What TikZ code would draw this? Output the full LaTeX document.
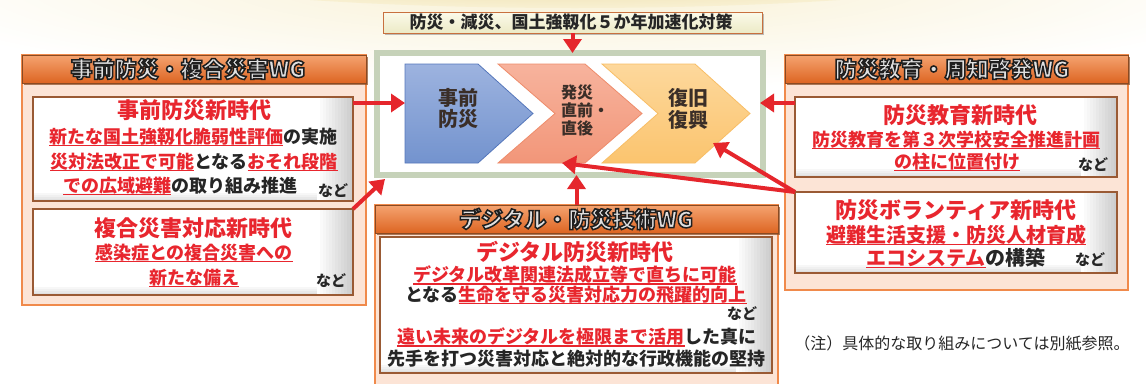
\documentclass[tikz,border=0pt]{standalone}
\usepackage{fontspec}
\setmainfont{Noto Sans CJK JP}
\usetikzlibrary{arrows.meta,calc,shadows}
\definecolor{jred}{HTML}{E8262E}
\definecolor{arred}{HTML}{E5262C}
\definecolor{peach}{HTML}{FCE4D6}
\definecolor{porange}{HTML}{F08A4B}
\definecolor{bbrown}{HTML}{9A5A34}
\definecolor{tbtop}{HTML}{F5A370}
\definecolor{tbbot}{HTML}{DD6522}
\definecolor{tbdraw}{HTML}{8A4A22}
\definecolor{frameg}{HTML}{C6D2B9}
\definecolor{txtd}{HTML}{262626}
\definecolor{glowA}{HTML}{F8F0D2}
\definecolor{glowB}{HTML}{E6D08C}
\definecolor{bluetop}{HTML}{9DB3DF}
\definecolor{bluebot}{HTML}{7393CE}
\definecolor{bluedraw}{HTML}{5577BB}
\definecolor{saltop}{HTML}{F7B39D}
\definecolor{salbot}{HTML}{F29679}
\definecolor{saldraw}{HTML}{EE8C6B}
\definecolor{ortop}{HTML}{FDD89C}
\definecolor{orbot}{HTML}{FBC46E}
\definecolor{ordraw}{HTML}{F8BE66}
\definecolor{bantop}{HTML}{FBFAEA}
\definecolor{banbot}{HTML}{ECEAC6}
\definecolor{bandraw}{HTML}{C8703E}
\definecolor{chevtxt}{HTML}{3A2E28}
\definecolor{bevel}{HTML}{C8C8C8}
\newcommand\ru[1]{{\color{jred}\setbox0\hbox{#1}\rlap{\rule[-3.2pt]{\wd0}{1.3pt}}\box0}}
\newcommand\kk[1]{{\color{txtd}#1}}
\newcommand\outltext[1]{\special{pdf:code 2 Tr 1.5 w 0.12 G}#1\special{pdf:code 0 Tr}}
\tikzset{
  panel/.style={fill=peach, draw=porange, line width=2.5pt, inner sep=0pt, outer sep=0pt, anchor=north west},
  tbar/.style={top color=tbtop, bottom color=tbbot, draw=tbdraw, line width=0.8pt, inner sep=0pt, outer sep=0pt, anchor=north west,
    drop shadow={shadow xshift=1.5pt, shadow yshift=-2pt, opacity=0.7, fill=tbdraw}},
  ibox/.style={fill=white, draw=bbrown, line width=2.6pt, inner sep=0pt, outer sep=0pt, anchor=north west,
    path picture={
      \foreach \i in {1,...,12}{
        \pgfmathsetmacro\pc{\i*100/12}
        \fill[bevel!\pc!white] ([xshift={-36pt+\i*3pt}]path picture bounding box.north east) rectangle (path picture bounding box.south east);
      }
      \foreach \i in {1,...,5}{
        \pgfmathsetmacro\pc{\i*70/5}
        \fill[bevel!\pc!white] ([yshift={10pt-\i*2pt}]path picture bounding box.south west) rectangle ([xshift=-36pt]path picture bounding box.south east);
      }
    }},
  hd/.style={font=\fontsize{22}{24}\selectfont\bfseries, text=jred, inner sep=0pt},
  bd/.style={font=\fontsize{18}{20}\selectfont\bfseries, text=jred, inner sep=0pt},
  bdl/.style={font=\fontsize{20}{22}\selectfont\bfseries, text=jred, inner sep=0pt},
  nado/.style={font=\fontsize{15}{16}\selectfont\bfseries, text=txtd, inner sep=0pt},
  ttl/.style={font=\fontsize{22}{24}\selectfont\bfseries, text=white!88!black, inner sep=0pt},
  chevtext/.style={font=\fontsize{20}{21}\selectfont\bfseries, text=chevtxt, inner sep=0pt, align=center},
  rarrow/.style={draw=arred, line width=4pt, -{Triangle[length=14pt,width=18pt]}},
}
\begin{document}
\begin{tikzpicture}[x=1pt,y=-1pt]
\useasboundingbox (0,0) rectangle (1146,383);
% background glow
\begin{scope}
  \clip (0,0) rectangle (1146,383);
  \shade[inner color=glowA, outer color=white] (575,-20) ellipse [x radius=720, y radius=110];
  \shade[inner color=glowB, outer color=glowA] (575,-38) ellipse [x radius=470, y radius=46];
\end{scope}

% left panel
\node[panel, minimum width=344, minimum height=250] (lp) at (22,55) {};
\node[tbar, minimum width=344, minimum height=28] (lt) at (22,55) {};
\node[ibox, minimum width=320, minimum height=104] (b1) at (33,97) {};
\node[ibox, minimum width=320, minimum height=86] (b2) at (33,209) {};

% right panel
\node[panel, minimum width=343, minimum height=235] (rp) at (785,55) {};
\node[tbar, minimum width=343, minimum height=28] (rt) at (785,55) {};
\node[ibox, minimum width=322, minimum height=80] (e1) at (795,97) {};
\node[ibox, minimum width=322, minimum height=81] (v1) at (795,192) {};

% bottom panel
\node[panel, minimum width=403, minimum height=190] (dp) at (375,205) {};
\node[tbar, minimum width=403, minimum height=28] (dt) at (375,205) {};
\node[ibox, minimum width=392, minimum height=136] (db) at (380,237) {};

% banner
\node[top color=bantop, bottom color=banbot, draw=bandraw, line width=0.9pt, inner sep=0pt, outer sep=0pt, anchor=north west,
  minimum width=379, minimum height=21, drop shadow={shadow xshift=1.5pt, shadow yshift=-1.5pt, opacity=0.5}] (banner) at (383,12) {};

% frame
\node[draw=frameg, line width=6pt, fill=white, inner sep=0pt, outer sep=0pt, anchor=north west,
  minimum width=386, minimum height=122] (frame) at (377,53) {};

% chevrons
\shade[top color=bluetop, bottom color=bluebot, draw=bluedraw, line width=0.8pt]
  (405,64) -- (478,64) -- (533,113.5) -- (478,163) -- (405,163) -- cycle;
\shade[top color=saltop, bottom color=salbot, draw=saldraw, line width=0.8pt]
  (498,64) -- (585,64) -- (642,113.5) -- (585,163) -- (498,163) -- (555,113.5) -- cycle;
\shade[top color=ortop, bottom color=orbot, draw=ordraw, line width=0.8pt]
  (602,64) -- (695,64) -- (750,113.5) -- (695,163) -- (602,163) -- (658,113.5) -- cycle;
\coordinate (blueW) at (405,103);
\coordinate (salS) at (562,163);
\coordinate (oraSE) at (713,143);
\coordinate (frameE) at (760,103);
\coordinate (frameSW) at (385,179);

\node[chevtext] (c1) at (458,108) {事前\\防災};
\node[chevtext, font=\fontsize{16}{18}\selectfont\bfseries, align=left, anchor=west] (c2) at (561,110) {発災\\直前・\\直後};
\node[chevtext, font=\fontsize{20}{22}\selectfont\bfseries] (c3) at (688,109) {復旧\\復興};

% arrows
\draw[rarrow] (banner.south) -- (banner.south |- frame.north);
\draw[rarrow] (dt.north) -- (dt.north |- frame.south);
\draw[rarrow] (b1.east |- blueW) -- (blueW);
\draw[rarrow] (b2.north east) -- (frameSW);
\draw[rarrow] (e1.west |- frameE) -- (frameE);
\draw[rarrow] (v1.north west) -- (salS);
\draw[rarrow] (v1.north west) -- (oraSE);

% banner text
\node[font=\fontsize{17}{18}\selectfont\bfseries, text=txtd, inner sep=0pt] (bt) at (571,22) {防災・減災、国土強靱化５か年加速化対策};

% titles
\node[ttl] (t1) at (188,69) {\outltext{事前防災・複合災害WG}};
\node[ttl] (t2) at (952,69) {\outltext{防災教育・周知啓発WG}};
\node[ttl] (t3) at (576,219) {\outltext{デジタル・防災技術WG}};

% box 1
\node[hd] (h1) at (194,110) {事前防災新時代};
\node[bd] (l11) at (193,137) {\ru{新たな国土強靱化脆弱性評価}\kk{の実施}};
\node[bd] (l12) at (194,162) {\ru{災対法改正で可能}\kk{となる}\ru{おそれ段階}};
\node[bd] (l13) at (180,186) {\ru{での広域避難}\kk{の取り組み推進}};
\node[nado] (n1) at (333,191) {など};

% box 2
\node[hd] (h2) at (193,228) {複合災害対応新時代};
\node[bd] (l21) at (194,253) {\ru{感染症との複合災害への}};
\node[bd] (l22) at (194,278) {\ru{新たな備え}};
\node[nado] (n2) at (331,281) {など};

% bottom box
\node[hd] (h3) at (575,252) {デジタル防災新時代};
\node[bd] (l31) at (575,275) {\ru{デジタル改革関連法成立等で直ちに可能}};
\node[bd] (l32) at (576,295) {\kk{となる}\ru{生命を守る災害対応力の飛躍的向上}};
\node[nado] (n3) at (742,314) {など};
\node[bd] (l33) at (577,337) {\ru{遠い未来のデジタルを極限まで活用}\kk{した真に}};
\node[bd, text=txtd] (l34) at (576,359) {先手を打つ災害対応と絶対的な行政機能の堅持};

% right box 1
\node[hd] (h4) at (960,115) {防災教育新時代};
\node[bd] (l41) at (956,140) {\ru{防災教育を第３次学校安全推進計画}};
\node[bd] (l42) at (957,162) {\ru{の柱に位置付け}};
\node[nado] (n4) at (1093,165) {など};

% right box 2
\node[hd] (h5) at (956,210) {防災ボランティア新時代};
\node[bdl] (l51) at (956,235) {\ru{避難生活支援・防災人材育成}};
\node[bdl] (l52) at (956,258) {\ru{エコシステム}\kk{の構築}};
\node[nado] (n5) at (1090,260) {など};

% note
\node[font=\fontsize{16}{18}\selectfont, text=txtd, inner sep=0pt] (note) at (962,343) {（注）具体的な取り組みについては別紙参照。};
\end{tikzpicture}
\end{document}
